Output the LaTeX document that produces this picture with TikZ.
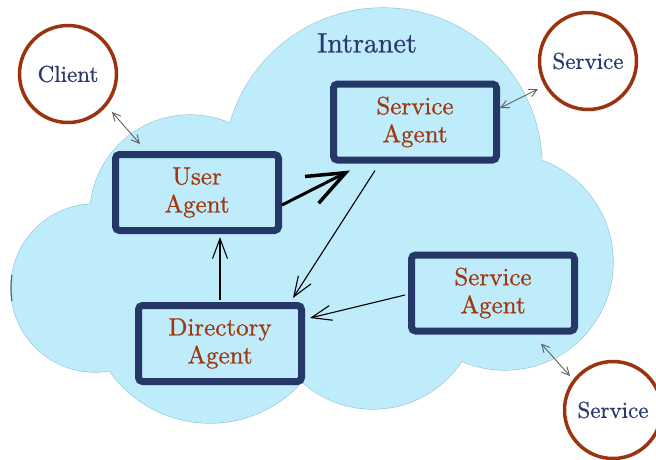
\documentclass[tikz,border=0pt]{standalone}
\usepackage{fontspec}
\newfontfamily\lblfont{lmroman10-regular}[Extension=.otf, BoldFont=lmroman10-regular, BoldFeatures={FakeBold=0.8}]
\usetikzlibrary{arrows.meta,calc}
\definecolor{cloudblue}{RGB}{190,236,251}
\definecolor{cloudedge}{RGB}{150,195,212}
\definecolor{navy}{RGB}{37,55,103}
\definecolor{rust}{RGB}{160,56,15}
\definecolor{ringred}{RGB}{155,50,16}
\definecolor{inknavy}{RGB}{43,58,110}
\begin{document}
\begin{tikzpicture}[x=1pt,y=-1pt,
  agent/.style={draw=navy, line width=7pt, rounded corners=4pt,
    minimum width=163pt, minimum height=76pt, text=rust, align=center,
    font=\lblfont\bfseries\fontsize{25}{28}\selectfont, inner sep=0pt},
  peer/.style={circle, draw=ringred, line width=3.5pt, fill=white,
    minimum size=97pt, text=inknavy, font=\lblfont\bfseries\fontsize{23}{26}\selectfont, inner sep=0pt},
  link/.style={draw=gray!75!black, line width=0.9pt,
    {Straight Barb[length=8pt,width=8pt]}-{Straight Barb[length=8pt,width=8pt]}},
  flow/.style={draw=black, line width=1.1pt, -{Straight Barb[length=20pt,width=15pt]}},
  bigflow/.style={draw=black, line width=3pt,
    -{Straight Barb[length=38pt,width=30pt,line width=3.5pt]}},
]
\useasboundingbox (0,0) rectangle (656,459);
\clip (0,0) rectangle (656,459);

% cloud: outline of every lobe first, then the fill hides the inner arcs
\foreach \cx/\cy/\r in {383/167/159, 190/215/100, 95/288/84, 210/300/123, 373/303/106, 505/262/108}
  \draw[cloudedge, line width=1.2pt] (\cx,\cy) circle[radius=\r];
\foreach \cx/\cy/\r in {383/167/159, 190/215/100, 95/288/84, 210/300/123, 373/303/106, 505/262/108}
  \fill[cloudblue] (\cx,\cy) circle[radius=\r];
\fill[cloudblue] (227,127) -- (530,157) -- (463,360) -- (303,380) -- (105,369) -- (90,205) -- cycle;
\draw[black!70, line width=1pt] (95,288) ++(171:84) arc[start angle=171, end angle=189, radius=84];

\node[text=inknavy, font=\lblfont\bfseries\fontsize{28}{30}\selectfont] (intranet) at (367,43) {Intranet};

% agents
\node[agent] (ua)  at (197,192.5) {User\\Agent};
\node[agent] (sa1) at (415,122)   {Service\\Agent};
\node[agent] (sa2) at (493,293)   {Service\\Agent};
\node[agent] (da)  at (220,343.5) {Directory\\Agent};

% endpoints outside the intranet
\node[peer] (client) at (68,74)   {Client};
\node[peer] (svc1)   at (588,61)  {Service};
\node[peer] (svc2)   at (613,410) {Service};

% external links
\draw[link] ($(client.center)+(44,38)$) -- ($(ua.north west)+(28,-7)$);
\draw[link] ($(sa1.east)+(0,-14)$) -- ($(svc1.center)+(-50,28)$);
\draw[link] ($(sa2.south east)+(-37,9)$) -- ($(svc2.center)+(-43,-34)$);

% message flow between agents
\draw[bigflow] ($(ua.east)+(0,12.5)$) -- ($(sa1.south)+(-65,7)$);
\draw[flow] ($(sa1.south)+(-40,7)$) -- ($(da.north east)+(-12,-4)$);
\draw[flow] ($(da.north)+(0,-2)$) -- ($(da.north |- ua.south)+(0,3)$);
\draw[flow] ($(sa2.west)+(-3,2)$) -- ($(da.north east)+(5,16)$);
\end{tikzpicture}
\end{document}
